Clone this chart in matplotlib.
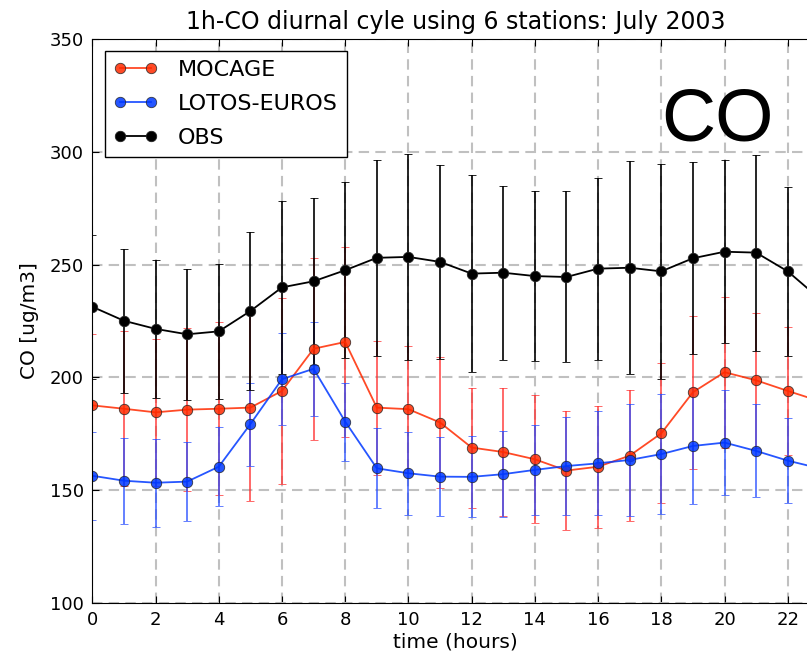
import numpy as np
import matplotlib
matplotlib.use("Agg")
import matplotlib.pyplot as plt

# diurnal cycle, July 2003, mean +/- std over 6 stations

hours = list(range(24))

mocage_mean = [187.6, 186.1, 184.5, 185.7, 186.1, 186.6, 194.0, 212.7, 215.7, 186.6, 185.9, 180.0,
               168.9, 166.9, 163.7, 158.7, 160.4, 165.3, 175.2, 193.4, 202.3, 198.7, 194.0, 189.5]
mocage_std = [31.5, 34.3, 32.7, 36.0, 38.3, 41.4, 41.4, 40.3, 42.0, 29.7, 28.1, 29.0,
              26.6, 28.3, 28.4, 26.4, 27.0, 29.0, 31.0, 33.9, 33.4, 30.0, 28.5, 27.0]

lotos_mean = [156.4, 154.2, 153.3, 153.8, 160.4, 179.3, 199.2, 203.8, 180.4, 159.7, 157.5, 156.0,
              155.9, 157.1, 159.0, 160.7, 161.9, 163.4, 166.0, 169.6, 171.1, 167.4, 163.1, 159.7]
lotos_std = [19.5, 19.0, 19.6, 17.6, 17.5, 18.4, 20.3, 20.8, 17.3, 17.7, 18.3, 17.5,
             18.0, 19.0, 20.0, 21.8, 23.0, 24.8, 26.6, 25.7, 23.3, 20.6, 19.0, 19.0]

obs_mean = [231.3, 225.1, 221.5, 219.1, 220.4, 229.4, 239.9, 242.6, 247.5, 253.0, 253.4, 251.2,
            246.0, 246.4, 244.9, 244.5, 248.2, 248.6, 247.0, 252.8, 255.7, 255.3, 247.0, 235.0]
obs_std = [32.0, 32.0, 30.5, 29.0, 30.0, 35.0, 38.5, 37.0, 39.0, 43.5, 45.5, 43.0,
           43.5, 38.5, 37.7, 37.9, 40.3, 47.3, 47.8, 42.5, 40.6, 43.4, 37.3, 40.0]

series = [
    ("MOCAGE", mocage_mean, mocage_std, "#ff2a00", "#ff3030"),
    ("LOTOS-EUROS", lotos_mean, lotos_std, "#0038ff", "#2a50ff"),
    ("OBS", obs_mean, obs_std, "black", "black"),
]

fig = plt.figure(figsize=(8.07, 6.54), dpi=100)
# right part of the axes is cut off in the original figure
ax = fig.add_axes([0.1144, 0.078, 0.9009, 0.8624])

handles = []
for name, mean, std, col, ecol in series:
    cont = ax.errorbar(hours, mean, yerr=std, fmt='-o', color=col, ecolor=ecol,
                       elinewidth=1.2, capsize=3, capthick=1.2, lw=1.3,
                       ms=7.5, mec='#222222', mew=0.6,
                       alpha=1.0 if name == "OBS" else 0.85)
    handles.append(cont[0])

ax.set_xlim(0, 23)
ax.set_ylim(100, 350)
ax.set_xticks(range(0, 24, 2))
ax.set_yticks(range(100, 351, 50))
ax.grid(True, linestyle=(0, (5, 3)), color='#c0c0c0', linewidth=1.5)
ax.set_axisbelow(True)
ax.tick_params(direction='in', top=True, right=True, length=5, labelsize=13, pad=6)

ax.set_title("1h-CO diurnal cyle using 6 stations: July 2003", fontsize=17, pad=7)
ax.set_xlabel("time (hours)", fontsize=14.5, labelpad=2)
ax.set_ylabel("CO [ug/m3]", fontsize=14.5, labelpad=8)

ax.text(18, 305, "CO", fontsize=54, family='Liberation Sans', va='baseline')

leg = ax.legend(handles, [s[0] for s in series], loc='upper left', fontsize=16,
                numpoints=2, handlelength=2.0, handletextpad=0.9, labelspacing=0.62,
                borderaxespad=0.55, fancybox=False, framealpha=1)
leg.get_frame().set_edgecolor('black')
leg.get_frame().set_linewidth(1.0)

fig.savefig("out.png", dpi=100)
